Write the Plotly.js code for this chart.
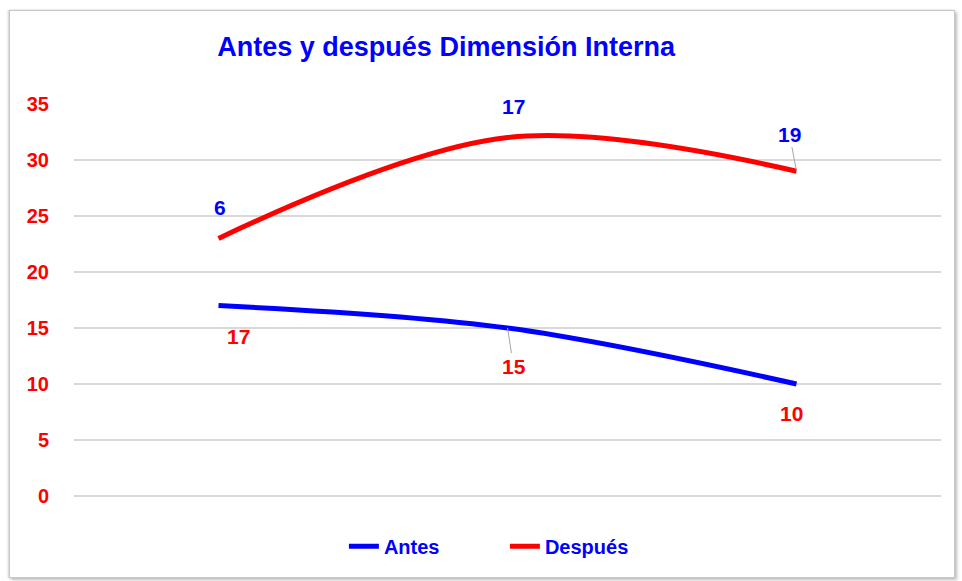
<!DOCTYPE html>
<html>
<head>
<meta charset="utf-8">
<script src="https://cdn.plot.ly/plotly-3.0.1.min.js"></script>
<style>
html,body{margin:0;padding:0;background:#fff;width:962px;height:581px;overflow:hidden;}
#frame{position:absolute;left:9px;top:10px;width:944px;height:566px;border:1px solid #c8c8c8;box-shadow:2px 2px 3px #bdbdbd, -1px 0 2px #d0d0d0;background:#fff;}
#chart{width:944px;height:566px;}
</style>
</head>
<body>
<div id="frame"><div id="chart"></div></div>
<script>
const categories = ["A", "B", "C"];
const antes = [17, 15, 10];
const despues = [6, 17, 19];
const yTicks = [0, 5, 10, 15, 20, 25, 30, 35];

const xIdx = categories.map((c, i) => i);
const stacked = despues.map((v, i) => v + antes[i]);

const FONT = "Liberation Sans, Arial, sans-serif";

const traces = [
  {x: xIdx, y: antes, name: "Antes", type: "scatter", mode: "lines",
   line: {color: "#0000ff", width: 5, shape: "spline", smoothing: 1}},
  {x: xIdx, y: stacked, name: "Después", type: "scatter", mode: "lines",
   line: {color: "#ff0000", width: 5, shape: "spline", smoothing: 1}}
];

const antesOff = [[20, 31, false], [6, 38, true], [-5, 29, false]];
const despOff = [[1, -31, false], [6, -31, false], [-7, -37, true]];

const annotations = [];
antes.forEach((v, i) => {
  annotations.push({x: i, y: v, xref: "x", yref: "y", text: String(v),
    showarrow: true, arrowhead: 0, arrowwidth: 1, standoff: 0,
    arrowcolor: antesOff[i][2] ? "#a6a6a6" : "rgba(0,0,0,0)",
    ax: antesOff[i][0], ay: antesOff[i][1],
    font: {family: FONT, size: 21, color: "#ff0000", weight: "bold"}});
});
despues.forEach((v, i) => {
  annotations.push({x: i, y: stacked[i], xref: "x", yref: "y", text: String(v),
    showarrow: true, arrowhead: 0, arrowwidth: 1, standoff: 0,
    arrowcolor: despOff[i][2] ? "#a6a6a6" : "rgba(0,0,0,0)",
    ax: despOff[i][0], ay: despOff[i][1],
    font: {family: FONT, size: 21, color: "#0000ff", weight: "bold"}});
});

const layout = {
  width: 944, height: 566,
  margin: {l: 64, r: 13, t: 93, b: 80},
  paper_bgcolor: "#ffffff", plot_bgcolor: "#ffffff",
  title: {text: "<b>Antes y después Dimensión Interna</b>", x: 0.462, xref: "container", xanchor: "center",
    y: 1 - 36/566, yref: "container", yanchor: "middle",
    font: {family: FONT, size: 27, color: "#0000ff"}},
  xaxis: {range: [-0.5, 2.5], showgrid: false, zeroline: false, showticklabels: false,
    showline: false, ticks: "", fixedrange: true},
  yaxis: {range: [0, 35], tickvals: yTicks, ticktext: yTicks.map(String),
    showgrid: true, gridcolor: "#d9d9d9", gridwidth: 1.5, zeroline: true, zerolinecolor: "#d9d9d9", zerolinewidth: 1.5,
    showline: false, ticks: "", ticklabelstandoff: 24,
    tickfont: {family: FONT, size: 20, color: "#ff0000", weight: "bold"}},
  showlegend: true,
  legend: {orientation: "h", x: 0.497, xanchor: "center", y: -0.125, yanchor: "middle",
    font: {family: FONT, size: 20, color: "#0000ff", weight: "bold"}, entrywidth: 116, tracegroupgap: 0},
  annotations: annotations
};

Plotly.newPlot("chart", traces, layout, {displayModeBar: false, staticPlot: true});
</script>
</body>
</html>
